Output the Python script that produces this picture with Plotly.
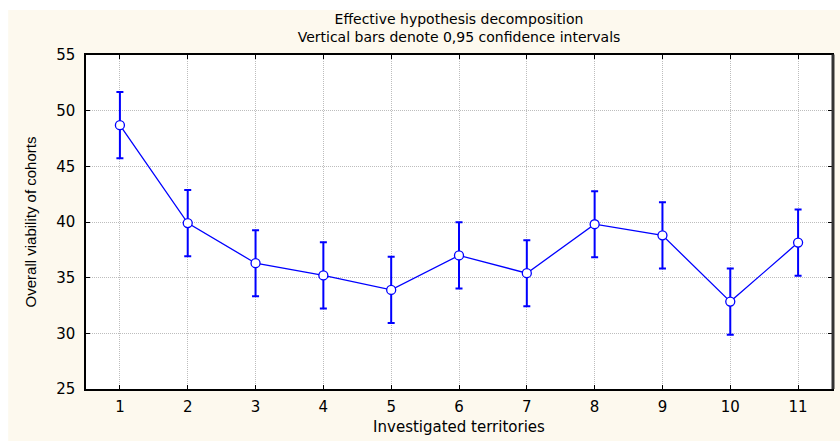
import plotly.graph_objects as go

territories = [1, 2, 3, 4, 5, 6, 7, 8, 9, 10, 11]
viability = [48.7, 39.9, 36.3, 35.2, 33.9, 37.0, 35.4, 39.8, 38.8, 32.85, 38.15]
ci_half = [2.97, 2.97, 2.97, 2.97, 2.97, 2.97, 2.97, 2.97, 2.97, 2.97, 2.97]
x_ticks = [1, 2, 3, 4, 5, 6, 7, 8, 9, 10, 11]
y_ticks = [25, 30, 35, 40, 45, 50, 55]

W, H = 840, 441
L, R, T, B = 86, 6, 55, 52
cream = "#FDF9EE"
blue = "#0000FF"

fig = go.Figure()
fig.add_trace(go.Scatter(
    x=territories, y=viability,
    mode="lines+markers",
    line=dict(color=blue, width=1.3),
    marker=dict(symbol="circle", size=9, color="white",
                line=dict(color=blue, width=1.3)),
    error_y=dict(type="data", array=ci_half, visible=True,
                 color=blue, thickness=2, width=3.5),
    showlegend=False,
))

wide = "DejaVu Sans, Verdana, sans-serif"
arial = "Liberation Sans, Arial, sans-serif"

def px_x(p):
    return (p - L) / (W - L - R)

def px_y(p):
    return 1 - (p - T) / (H - T - B)

grid = dict(showgrid=True, gridcolor="#BDBDBD", griddash="1px,1px", gridwidth=1)

fig.update_layout(
    width=W, height=H,
    margin=dict(l=L, r=R, t=T, b=B),
    paper_bgcolor=cream,
    plot_bgcolor="white",
    font=dict(family=wide, size=14, color="black"),
    title=dict(
        text="Effective hypothesis decomposition<br>Vertical bars denote 0,95 confidence intervals",
        x=0.5, xanchor="center", xref="paper",
        y=1 - 23.5 / H, yanchor="middle",
        font=dict(family=wide, size=14, color="black"),
    ),
    xaxis=dict(
        range=[0.5, 11.5], tickvals=x_ticks, ticktext=[str(v) for v in x_ticks],
        zeroline=False, showline=True, linecolor="black", linewidth=1.5,
        mirror="ticks", ticks="inside", ticklen=4, tickcolor="black",
        ticklabelstandoff=3,
        title=dict(text="Investigated territories", standoff=7,
                   font=dict(family=wide, size=15)),
        tickfont=dict(family=wide, size=15),
        **grid,
    ),
    yaxis=dict(
        range=[25, 55], tickvals=y_ticks,
        zeroline=False, showline=True, linecolor="black", linewidth=1.5,
        mirror="ticks", ticks="inside", ticklen=4, tickcolor="black",
        ticklabelstandoff=6,
        title=dict(text="Overall viability of cohorts", standoff=16,
                   font=dict(family=arial, size=15)),
        tickfont=dict(family=wide, size=15),
        **grid,
    ),
    shapes=[
        dict(type="rect", xref="paper", yref="paper", layer="below",
             x0=px_x(-5), x1=px_x(W + 5), y0=px_y(-5), y1=px_y(10),
             fillcolor="white", line=dict(width=0)),
        dict(type="rect", xref="paper", yref="paper", layer="below",
             x0=px_x(-5), x1=px_x(8), y0=px_y(-5), y1=px_y(H + 5),
             fillcolor="white", line=dict(width=0)),
        dict(type="line", xref="paper", yref="paper", layer="above",
             x0=px_x(835), x1=px_x(835), y0=px_y(54.5), y1=px_y(389),
             line=dict(color="#333333", width=3)),
    ],
)

fig.write_html("out.html")
